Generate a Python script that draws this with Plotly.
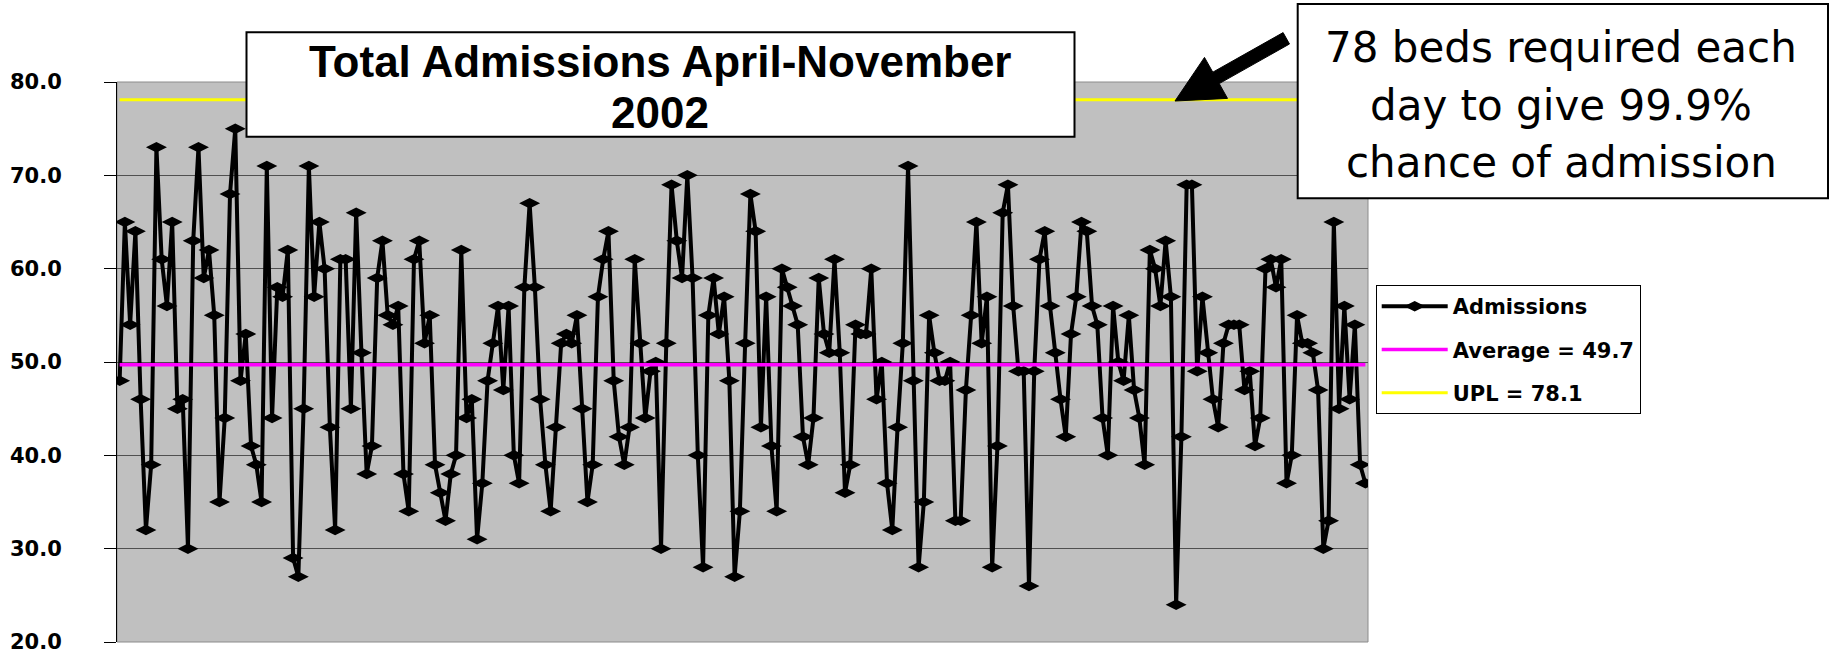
import plotly.graph_objects as go

# Daily admissions, April-November 2002
admissions = [
    48, 65, 54, 64, 46, 32, 39, 73, 61, 56,
    65, 45, 46, 30, 63, 73, 59, 62, 55, 35,
    44, 68, 75, 48, 53, 41, 39, 35, 71, 44,
    58, 57, 62, 29, 27, 45, 71, 57, 65, 60,
    43, 32, 61, 61, 45, 66, 51, 38, 41, 59,
    63, 55, 54, 56, 38, 34, 61, 63, 52, 55,
    39, 36, 33, 38, 40, 62, 44, 46, 31, 37,
    48, 52, 56, 47, 56, 40, 37, 58, 67, 58,
    46, 39, 34, 43, 52, 53, 52, 55, 45, 35,
    39, 57, 61, 64, 48, 42, 39, 43, 61, 52,
    44, 49, 50, 30, 52, 69, 63, 59, 70, 59,
    40, 28, 55, 59, 53, 57, 48, 27, 34, 52,
    68, 64, 43, 57, 41, 34, 60, 58, 56, 54,
    42, 39, 44, 59, 53, 51, 61, 51, 36, 39,
    54, 53, 53, 60, 46, 50, 37, 32, 43, 52,
    71, 48, 28, 35, 55, 51, 48, 48, 50, 33,
    33, 47, 55, 65, 52, 57, 28, 41, 66, 69,
    56, 49, 49, 26, 49, 61, 64, 56, 51, 46,
    42, 53, 57, 65, 64, 56, 54, 44, 40, 56,
    50, 48, 55, 47, 44, 39, 62, 60, 56, 63,
    57, 24, 42, 69, 69, 49, 57, 51, 46, 43,
    52, 54, 54, 54, 47, 49, 41, 44, 60, 61,
    58, 61, 37, 40, 55, 52, 52, 51, 47, 30,
    33, 65, 45, 56, 46, 54, 39, 37,
]
average_value = 49.7
upl_value = 78.1
y_ticks = [20, 30, 40, 50, 60, 70, 80]
title_lines = ["Total Admissions April-November", "2002"]
note_lines = ["78 beds required each", "day to give 99.9%", "chance of admission"]

days = list(range(len(admissions)))

# page and plot-area geometry (pixels)
W, H = 1833, 653
PL, PR, PT, PB = 117, 1368, 82, 642


def fx(x):
    return (x - PL) / (PR - PL)


def fy(y):
    return (PB - y) / (PB - PT)


fig = go.Figure()
fig.add_trace(go.Scatter(
    x=days, y=admissions, mode="lines+markers", name="Admissions",
    legendgroup="adm",
    line=dict(color="black", width=4),
    marker=dict(symbol="diamond-wide", size=15, color="black"),
))
fig.add_trace(go.Scatter(
    x=days, y=[average_value] * len(days), mode="lines",
    name=f"Average = {average_value}", legendgroup="avg",
    line=dict(color="#FF00FF", width=3.5),
))
fig.add_trace(go.Scatter(
    x=days, y=[upl_value] * len(days), mode="lines",
    name=f"UPL = {upl_value}", legendgroup="upl",
    line=dict(color="#FFFF00", width=3),
))

shapes = [
    # plot-area frame
    dict(type="rect", xref="paper", yref="paper", x0=0, x1=1, y0=0, y1=1,
         line=dict(color="#8c8c8c", width=1), layer="below"),
    # title box
    dict(type="rect", xref="paper", yref="paper",
         x0=fx(246.5), x1=fx(1074.5), y0=fy(136.7), y1=fy(32.3),
         fillcolor="white", line=dict(color="black", width=2), layer="above"),
    # note box
    dict(type="rect", xref="paper", yref="paper",
         x0=fx(1297.7), x1=fx(1828), y0=fy(198.3), y1=fy(4),
         fillcolor="white", line=dict(color="black", width=2), layer="above"),
]

# block arrow pointing from the note towards the UPL line
arrow_pts = [(1175, 101), (1227.5, 98.4), (1219.2, 83.6), (1289.5, 44),
             (1283.1, 32.6), (1212.8, 72.2), (1204.5, 57.4)]
path = "M " + " L ".join(f"{fx(x):.5f},{fy(y):.5f}" for x, y in arrow_pts) + " Z"
shapes.append(dict(type="path", xref="paper", yref="paper", path=path,
                   fillcolor="black", line=dict(color="black", width=1),
                   layer="above"))

annotations = []
for text, yc in zip(title_lines, [61.3, 112.3]):
    annotations.append(dict(
        xref="paper", yref="paper", x=fx(660), y=fy(yc), text=text,
        showarrow=False, xanchor="center", yanchor="middle",
        font=dict(family="Liberation Sans", size=44, color="black", weight="bold"),
    ))
for text, yc in zip(note_lines, [47, 105.3, 162]):
    annotations.append(dict(
        xref="paper", yref="paper", x=fx(1561), y=fy(yc), text=text,
        showarrow=False, xanchor="center", yanchor="middle",
        font=dict(family="DejaVu Sans", size=42, color="black"),
    ))

fig.update_layout(
    width=W, height=H, autosize=False,
    margin=dict(l=PL, r=W - PR, t=PT, b=H - PB, pad=0, autoexpand=False),
    paper_bgcolor="white", plot_bgcolor="#C0C0C0",
    shapes=shapes, annotations=annotations,
    showlegend=True,
    legend=dict(
        xref="container", yref="container",
        x=1375.7 / W, y=1 - 285 / H, xanchor="left", yanchor="top",
        bgcolor="white", bordercolor="black", borderwidth=1,
        font=dict(family="DejaVu Sans", size=21, color="black", weight="bold"),
        traceorder="grouped", tracegroupgap=13,
        itemwidth=66, entrywidth=262,
    ),
    xaxis=dict(range=[-0.5, len(days) - 0.5], showgrid=False, zeroline=False,
               showticklabels=False, ticks="", showline=False, fixedrange=True,
               automargin=False),
    yaxis=dict(range=[20, 80], tickvals=y_ticks, tickformat=".1f",
               showgrid=True, gridcolor="#505050", gridwidth=1.2,
               zeroline=False, showline=True, linecolor="black", linewidth=1,
               ticks="outside", ticklen=12, tickcolor="black", tickwidth=1,
               ticklabelstandoff=38, ticklabeloverflow="allow", automargin=False,
               tickfont=dict(family="DejaVu Sans", size=21, color="black",
                             weight="bold")),
)

fig.write_html("out.html")
